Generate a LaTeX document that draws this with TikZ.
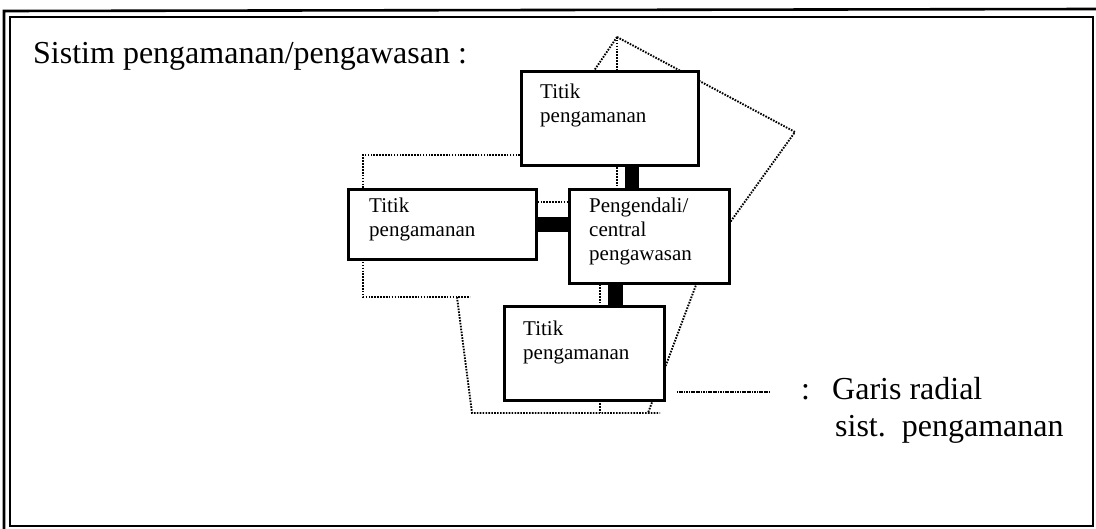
\documentclass[tikz,border=0pt]{standalone}
\usepackage{fontspec}
\setmainfont{Liberation Serif}
\usetikzlibrary{backgrounds}
\begin{document}
\begin{tikzpicture}[x=1pt,y=-1pt,
  box/.style={draw, fill=white, line width=2.6pt, inner sep=0pt, anchor=north west},
  radial/.style={line width=1.9pt, dash pattern=on 1.6pt off 1.3pt},
  bar/.style={line width=14.5pt},
  boxtext/.style={anchor=north west, inner sep=0pt, align=left, font=\fontsize{21}{24}\selectfont},
  big/.style={anchor=base west, inner sep=0pt, font=\fontsize{32}{38}\selectfont},
  legline/.style={line width=1.3pt, dash pattern=on 1.2pt off 0.5pt}]
\useasboundingbox (0,0) rectangle (1096,529);
% frame
\draw[line width=2.6pt] (4,529) -- (4,11) -- (1096,9);
\draw[line width=2.2pt] (10,17) rectangle (1093,526);
% boxes
\node[box, minimum width=177pt, minimum height=94pt] (top) at (520,70) {};
\node[box, minimum width=188pt, minimum height=70pt] (lft) at (347,188) {};
\node[box, minimum width=160pt, minimum height=94pt] (ctr) at (568,188) {};
\node[box, minimum width=160pt, minimum height=94pt] (bot) at (503,305) {};
% box texts
\node[boxtext] (toptx) at (540,84) {Titik\\pengamanan};
\node[boxtext] (lfttx) at (369,198) {Titik\\pengamanan};
\node[boxtext] (ctrtx) at (589,198) {Pengendali/\\central\\pengawasan};
\node[boxtext] (bottx) at (523,321) {Titik\\pengamanan};
% thick links
\draw[bar] ([xshift=112pt]top.south west) -- ([xshift=64pt]ctr.north west);
\draw[bar] ([yshift=-36.5pt]lft.north east) -- ([yshift=-36.5pt]ctr.north west);
\draw[bar] ([xshift=47.5pt]ctr.south west) -- ([xshift=112.5pt]bot.north west);
% radial dotted lines
\coordinate (apex) at (617,37);
\coordinate (la) at (585,84);
\coordinate (rp) at (795,132);
\coordinate (rk) at (708,253);
\coordinate (rb) at (648,413);
\coordinate (bl) at (472,413);
\coordinate (br) at (660,413);
\coordinate (l1) at (363,155);
\coordinate (l2) at (363,297);
\coordinate (l3) at (470,297);
\coordinate (l4) at (457,297);
\coordinate (v1) at (600,270);
\coordinate (v2) at (600,413);
\begin{scope}[on background layer]
\draw[radial] (apex) -- (la);
\draw[radial] (apex) -- (apex |- ctr.north);
\draw[radial] (apex) -- (rp) -- (rk) -- (rb);
\draw[radial] (top.west |- l1) -- (l1) -- (l2) -- (l3);
\draw[radial] (l4) -- (bl) -- (br);
\draw[radial] ([yshift=-14pt]lft.north east) -- ([yshift=-14pt]ctr.north west);
\draw[radial] (v1) -- (v2);
\end{scope}
% title
\node[big] (title) at (33,64) {Sistim pengamanan/pengawasan :};
% legend
\coordinate (ls) at (677,392);
\coordinate (le) at (770,392);
\draw[legline] (ls) -- (le);
\node[big] (colon) at (801,400) {:};
\node[big] (leg1) at (832,400) {Garis radial};
\node[big] (leg2) at (835,437) {sist.\ \ pengamanan};
\end{tikzpicture}
\end{document}
